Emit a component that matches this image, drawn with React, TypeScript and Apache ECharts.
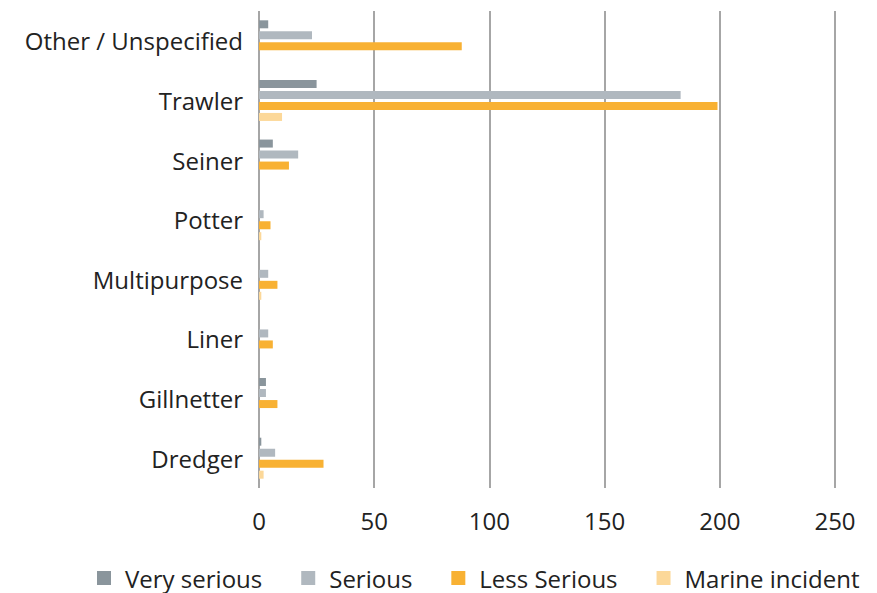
import React, { useEffect, useRef } from "react";
import * as echarts from "echarts";

const categories = [
  "Other / Unspecified",
  "Trawler",
  "Seiner",
  "Potter",
  "Multipurpose",
  "Liner",
  "Gillnetter",
  "Dredger",
];
const verySerious = [4, 25, 6, 0, 0, 0, 3, 1];
const serious = [23, 183, 17, 2, 4, 4, 3, 7];
const lessSerious = [88, 199, 13, 5, 8, 6, 8, 28];
const marineIncident = [0, 10, 0, 1, 1, 0, 0, 2];
const seriesNames = ["Very serious", "Serious", "Less Serious", "Marine incident"];
const seriesColors = ["#8a959c", "#b0b8bf", "#f8b133", "#fcd899"];

export default function App() {
  const ref = useRef<HTMLDivElement>(null);
  useEffect(() => {
    const chart = echarts.init(ref.current!, undefined, { renderer: "svg" });
    const font = "'Open Sans', Roboto, sans-serif";
    const dataSets = [verySerious, serious, lessSerious, marineIncident];
    chart.setOption({
      animation: false,
      textStyle: { fontFamily: font },
      grid: { left: 251, right: 34, top: 3, bottom: 105, containLabel: false },
      legend: {
        top: 553,
        left: 84,
        itemWidth: 14,
        itemHeight: 14,
        itemGap: 39,
        icon: "rect",
        textStyle: { fontSize: 24, color: "#222", fontFamily: font, padding: [0, 0, 0, 9] },
        data: seriesNames,
      },
      xAxis: {
        type: "value",
        min: 0,
        max: 250,
        interval: 50,
        axisLine: { show: false },
        axisTick: { show: false },
        axisLabel: { fontSize: 24, color: "#222", margin: 20, fontFamily: font },
        splitLine: { show: true, lineStyle: { color: "#a6a6a6", width: 2 } },
      },
      yAxis: {
        type: "category",
        inverse: true,
        data: categories,
        axisLine: { show: false },
        axisTick: { show: false },
        axisLabel: { fontSize: 24, color: "#222", margin: 16, fontFamily: font },
      },
      series: dataSets.map((d, i) => ({
        name: seriesNames[i],
        type: "bar",
        data: d,
        barWidth: 8,
        barGap: "37.5%",
        itemStyle: { color: seriesColors[i] },
      })),
    });
    return () => chart.dispose();
  }, []);
  return <div ref={ref} style={{ width: 861, height: 585 }} />;
}
